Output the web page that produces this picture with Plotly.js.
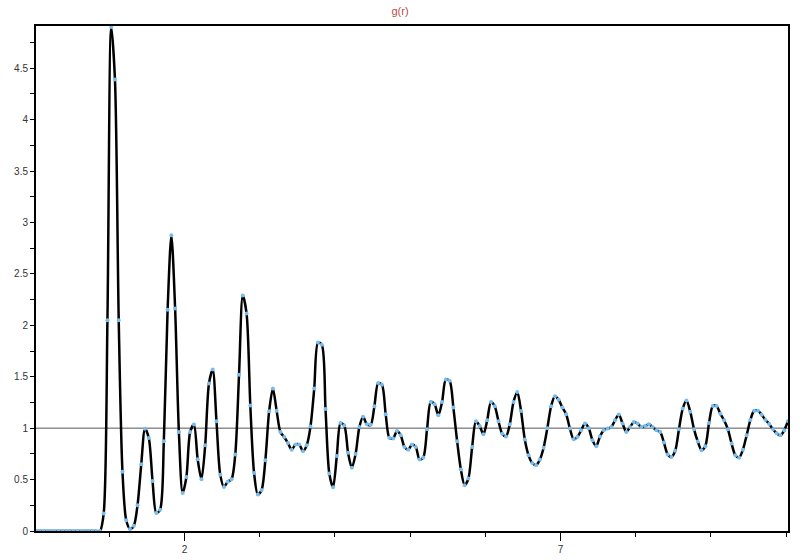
<!DOCTYPE html>
<html>
<head>
<meta charset="utf-8">
<script src="https://cdn.plot.ly/plotly-3.0.1.min.js"></script>
<style>
html,body{margin:0;padding:0;background:#fff;}
#chart{width:800px;height:560px;}
</style>
</head>
<body>
<div id="chart"></div>
<script>
// r values (bin centres)
const r = [
 0.025,0.075,0.125,0.175,0.225,0.275,0.325,0.375,0.425,0.475,
 0.525,0.575,0.625,0.675,0.725,0.775,0.825,0.875,0.925,0.975,
 1.025,1.075,1.125,1.175,1.225,1.275,1.325,1.375,1.425,1.475,
 1.525,1.575,1.625,1.675,1.725,1.775,1.825,1.875,1.925,1.975,
 2.025,2.075,2.125,2.175,2.225,2.275,2.325,2.375,2.425,2.475,
 2.525,2.575,2.625,2.675,2.725,2.775,2.825,2.875,2.925,2.975,
 3.025,3.075,3.125,3.175,3.225,3.275,3.325,3.375,3.425,3.475,
 3.525,3.575,3.625,3.675,3.725,3.775,3.825,3.875,3.925,3.975,
 4.025,4.075,4.125,4.175,4.225,4.275,4.325,4.375,4.425,4.475,
 4.525,4.575,4.625,4.675,4.725,4.775,4.825,4.875,4.925,4.975,
 5.025,5.075,5.125,5.175,5.225,5.275,5.325,5.375,5.425,5.475,
 5.525,5.575,5.625,5.675,5.725,5.775,5.825,5.875,5.925,5.975,
 6.025,6.075,6.125,6.175,6.225,6.275,6.325,6.375,6.425,6.475,
 6.525,6.575,6.625,6.675,6.725,6.775,6.825,6.875,6.925,6.975,
 7.025,7.075,7.125,7.175,7.225,7.275,7.325,7.375,7.425,7.475,
 7.525,7.575,7.625,7.675,7.725,7.775,7.825,7.875,7.925,7.975,
 8.025,8.075,8.125,8.175,8.225,8.275,8.325,8.375,8.425,8.475,
 8.525,8.575,8.625,8.675,8.725,8.775,8.825,8.875,8.925,8.975,
 9.025,9.075,9.125,9.175,9.225,9.275,9.325,9.375,9.425,9.475,
 9.525,9.575,9.625,9.675,9.725,9.775,9.825,9.875,9.925,9.975,
 10.025
];
// g(r) values
const g = [
 0,0,0,0,0,0,0,0,0,0,
 0,0,0,0,0,0,0,0,0.17,2.05,
 4.9,4.39,2.05,0.575,0.104,0.02,0.05,0.25,0.65,0.995,
 0.905,0.485,0.175,0.207,0.873,2.15,2.875,2.163,0.963,0.37,
 0.525,0.963,1.035,0.697,0.503,0.834,1.433,1.57,1.067,0.548,
 0.428,0.48,0.503,0.745,1.52,2.29,2.115,1.22,0.564,0.354,
 0.398,0.688,1.164,1.385,1.17,0.963,0.914,0.855,0.79,0.84,
 0.84,0.776,0.834,1.015,1.385,1.832,1.812,1.185,0.56,0.425,
 0.728,1.05,1.025,0.76,0.615,0.748,1.01,1.11,1.037,1.032,
 1.212,1.438,1.422,1.136,0.906,0.9,0.972,0.93,0.817,0.79,
 0.84,0.817,0.694,0.714,0.989,1.255,1.232,1.125,1.255,1.473,
 1.46,1.2,0.873,0.597,0.445,0.51,0.817,1.067,1.02,0.94,
 1.077,1.255,1.213,1.067,0.946,0.92,1.037,1.255,1.352,1.167,
 0.89,0.736,0.661,0.64,0.694,0.81,1.0,1.213,1.31,1.275,
 1.2,1.135,0.996,0.892,0.915,0.98,1.045,1.0,0.882,0.824,
 0.92,0.98,0.996,1.01,1.077,1.133,1.045,0.963,1.01,1.06,
 1.045,1.01,1.02,1.037,1.01,0.98,0.963,0.86,0.745,0.72,
 0.78,0.99,1.19,1.27,1.16,0.99,0.87,0.785,0.824,1.05,
 1.215,1.215,1.14,1.077,0.99,0.85,0.736,0.713,0.79,0.93,
 1.08,1.17,1.17,1.13,1.08,1.04,0.99,0.95,0.93,0.98,
 1.07
];
const xMajorTicks = [2, 7];
const xMajorLabels = ['2', '7'];
const xMinorTicks = [1, 3, 4, 5, 6, 8, 9, 10];
const yTicks = [0, 0.5, 1, 1.5, 2, 2.5, 3, 3.5, 4, 4.5];
const yTickLabels = ['0', '0.5', '1', '1.5', '2', '2.5', '3', '3.5', '4', '4.5'];
const refLevel = 1;
const chartTitle = 'g(r)';

const trace = {
  x: r, y: g,
  type: 'scatter',
  mode: 'lines+markers',
  line: {color: '#000000', width: 2.5, shape: 'spline', smoothing: 0.8},
  marker: {color: '#78bdf0', size: 4},
  cliponaxis: false,
  hoverinfo: 'x+y'
};

const layout = {
  width: 800, height: 560,
  margin: {l: 36, r: 12, t: 26, b: 29},
  paper_bgcolor: '#ffffff',
  plot_bgcolor: '#ffffff',
  showlegend: false,
  font: {family: '"Liberation Sans", Arial, sans-serif', size: 10, color: '#333333'},
  title: {
    text: chartTitle,
    x: 0.5, xref: 'container', xanchor: 'center',
    y: 1, yref: 'container', yanchor: 'top', pad: {t: 7},
    font: {family: '"Liberation Sans", Arial, sans-serif', size: 11, color: '#b94a48'}
  },
  xaxis: {
    range: [0.025, 10.025],
    showgrid: false, zeroline: false,
    showline: true, linecolor: '#000000', linewidth: 2, mirror: true,
    tickmode: 'array', tickvals: xMajorTicks, ticktext: xMajorLabels,
    ticks: 'outside', ticklen: 8, tickwidth: 1, tickcolor: '#000000',
    minor: {tickmode: 'array', tickvals: xMinorTicks, ticks: 'outside', ticklen: 4, tickwidth: 1, tickcolor: '#000000'},
    tickfont: {size: 10, color: '#333333'},
    fixedrange: true
  },
  yaxis: {
    range: [0, 4.91],
    showgrid: false, zeroline: false,
    showline: true, linecolor: '#000000', linewidth: 2, mirror: true,
    tickmode: 'array', tickvals: yTicks, ticktext: yTickLabels,
    ticks: 'outside', ticklen: 4, tickwidth: 1, tickcolor: '#000000',
    minor: {dtick: 0.25, tick0: 0, ticks: 'outside', ticklen: 4, tickwidth: 1, tickcolor: '#000000'},
    tickfont: {size: 10, color: '#333333'},
    fixedrange: true
  },
  shapes: [{
    type: 'line', xref: 'paper', x0: 0, x1: 1, yref: 'y', y0: refLevel, y1: refLevel,
    line: {color: '#555555', width: 1}, layer: 'below'
  }]
};

Plotly.newPlot('chart', [trace], layout, {displayModeBar: false, staticPlot: true});
</script>
</body>
</html>
